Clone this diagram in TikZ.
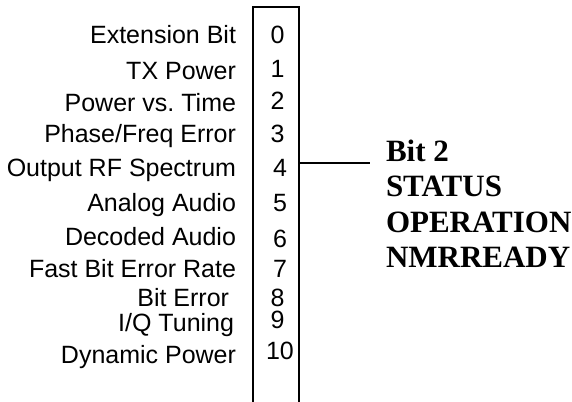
\documentclass[tikz,border=0pt]{standalone}
\usepackage{fontspec}
\setmainfont{Liberation Serif}
\setsansfont{Liberation Sans}
\usetikzlibrary{positioning}

\begin{document}
\begin{tikzpicture}[x=0.75pt, y=-0.75pt, line width=1.5pt,
  every node/.style={inner sep=0pt},
  bitname/.style={anchor=base east, font=\sffamily\fontsize{18.75}{22}\selectfont},
  bitnum/.style={anchor=base west, font=\sffamily\fontsize{18.75}{22}\selectfont},
  summary/.style={anchor=north west, align=left, font=\bfseries\fontsize{23.25}{26.6}\selectfont}]
  \useasboundingbox (0,0) rectangle (572,402);

  % Register column (open at the bottom)
  \draw (252.5,402) -- (252.5,7.5) -- (299,7.5) -- (299,402);

  % Bit names
  \node[bitname] (ext)  at (237,44)    {Extension Bit};
  \node[bitname] (tx)   at (237,79.5)  {TX Power};
  \node[bitname] (pvt)  at (237,111.5) {Power vs.\ Time};
  \node[bitname] (pfe)  at (237,143)   {Phase/Freq Error};
  \node[bitname] (orfs) at (237,177)   {Output RF Spectrum};
  \node[bitname] (aa)   at (237,211.5) {Analog Audio};
  \node[bitname] (da)   at (237,245.5) {Decoded Audio};
  \node[bitname] (fber) at (237,278)   {Fast Bit Error Rate};
  \node[bitname] (ber)  at (230,307)   {Bit Error};
  \node[bitname] (iq)   at (235,332)   {I/Q Tuning};
  \node[bitname] (dp)   at (237,364)   {Dynamic Power};

  % Bit numbers
  \node[bitnum] (b0)  at (269.5,43.5)  {0};
  \node[bitnum] (b1)  at (269.5,77.5)  {1};
  \node[bitnum] (b2)  at (269.5,110)   {2};
  \node[bitnum] (b3)  at (269.5,142.5) {3};
  \node[bitnum] (b4)  at (272,176.5)   {4};
  \node[bitnum] (b5)  at (272,211.5)   {5};
  \node[bitnum] (b6)  at (272,248)     {6};
  \node[bitnum] (b7)  at (272,277.5)   {7};
  \node[bitnum] (b8)  at (269.5,307)   {8};
  \node[bitnum] (b9)  at (269.5,329)   {9};
  \node[bitnum] (b10) at (265,360)     {10};

  % Summary for bit 2
  \node[summary] (status) at (385,139) {Bit 2\\STATUS\\OPERATION\\NMRREADY};
  \coordinate (tap) at (299,163);
  \draw (tap) -- ([xshift=-11pt]status.west |- tap);
\end{tikzpicture}
\end{document}
